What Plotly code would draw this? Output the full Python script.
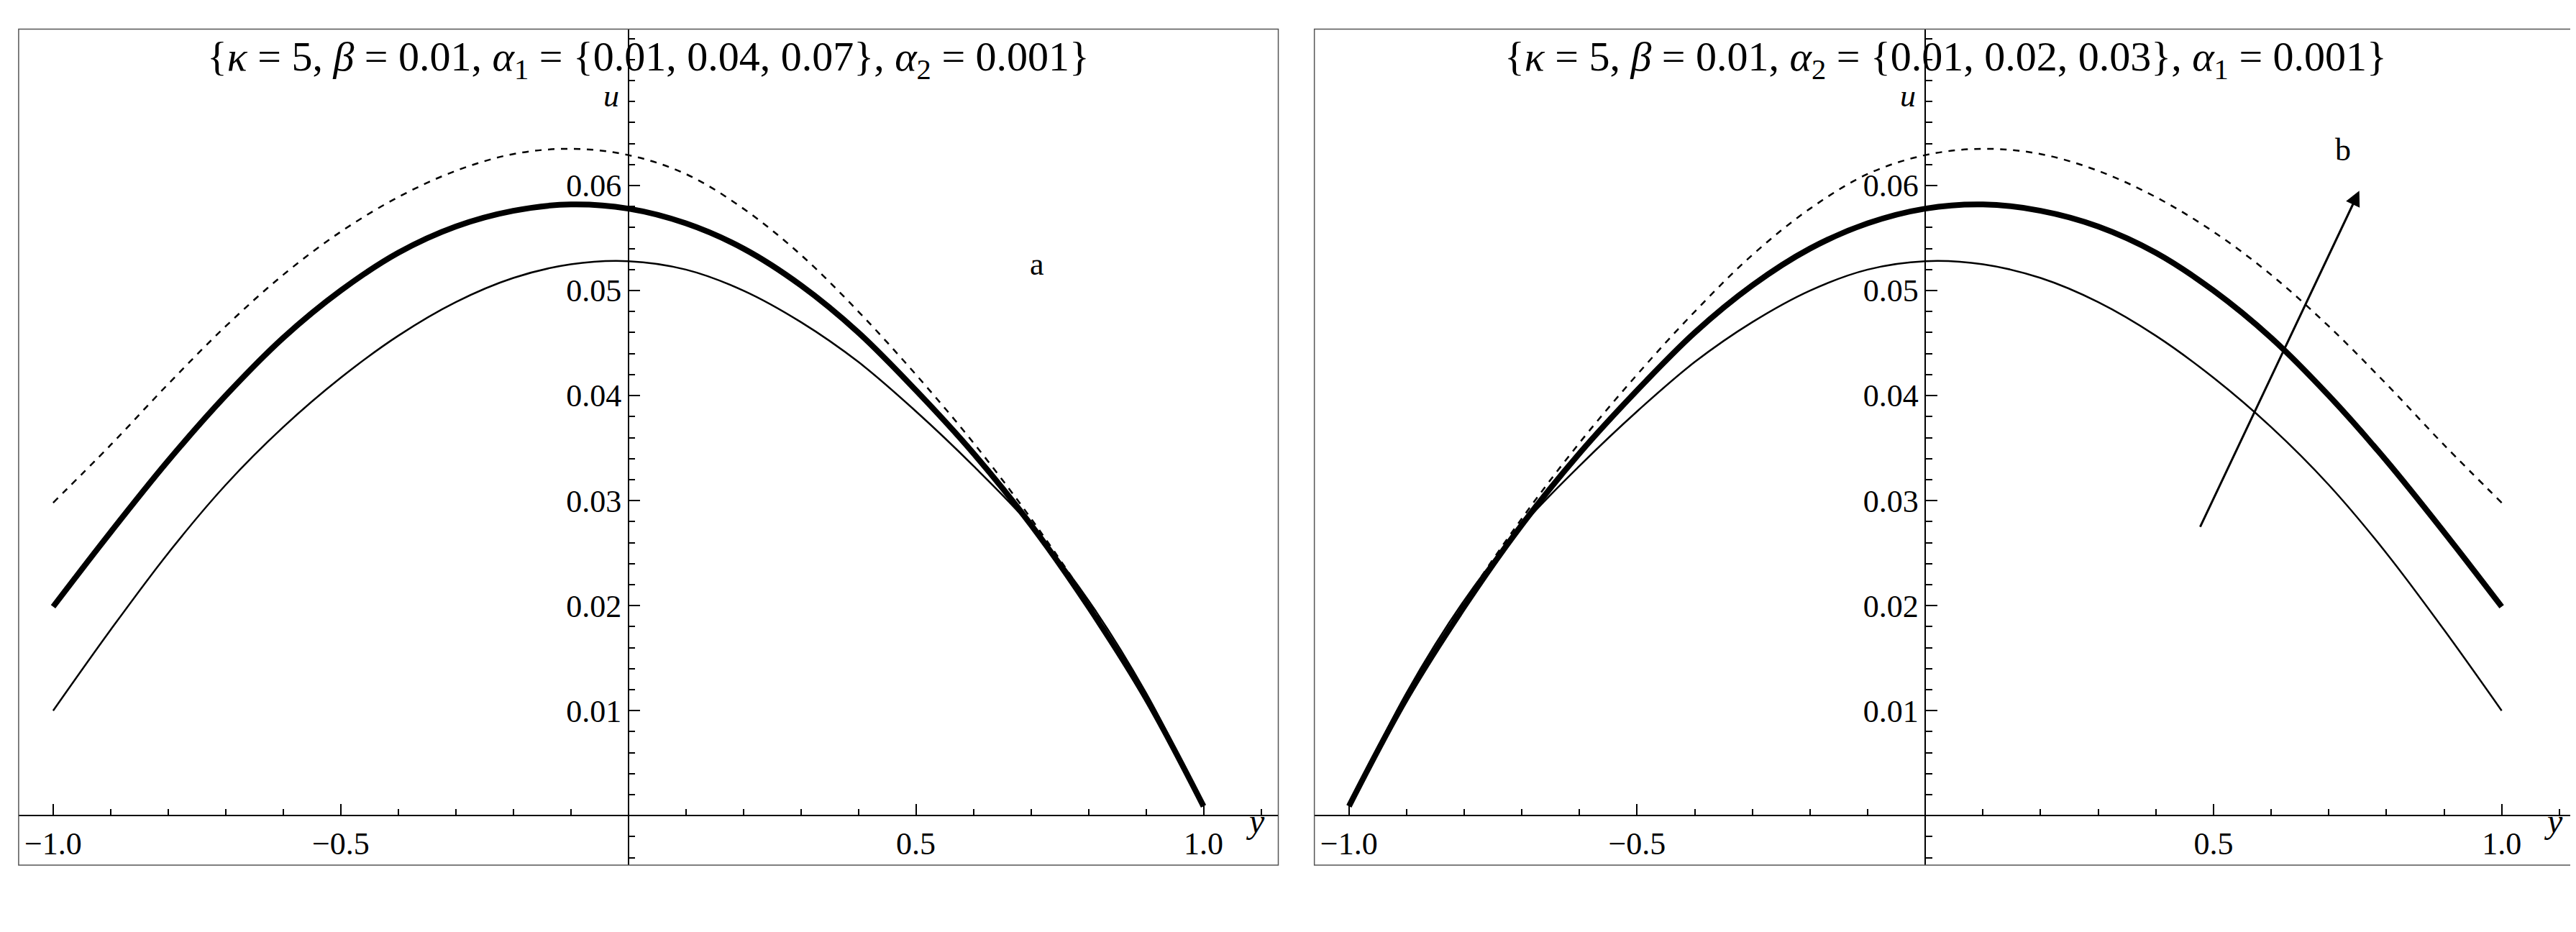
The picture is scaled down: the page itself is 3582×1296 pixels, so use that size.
import plotly.graph_objects as go

# values (right panel is its mirror image in y)
y_pts = [-1.0, -0.9, -0.8, -0.7, -0.6, -0.5, -0.4, -0.3, -0.2, -0.1, 0.0,
         0.1, 0.2, 0.3, 0.4, 0.5, 0.6, 0.7, 0.8, 0.9, 1.0]
u_low = [0.0100, 0.0177, 0.0250, 0.0315, 0.0370, 0.0417, 0.0457, 0.0489, 0.0512, 0.0525, 0.0528,
         0.0520, 0.0500, 0.0470, 0.0432, 0.0385, 0.0333, 0.0276, 0.0205, 0.0117, 0.0009]
u_mid = [0.0199, 0.0270, 0.0338, 0.0400, 0.0455, 0.0500, 0.0536, 0.0561, 0.0576, 0.0582, 0.0578,
         0.0564, 0.0540, 0.0505, 0.0460, 0.0405, 0.0345, 0.0277, 0.0199, 0.0112, 0.0009]
u_high = [0.0298, 0.0353, 0.0411, 0.0466, 0.0515, 0.0556, 0.0589, 0.0614, 0.0630, 0.0635, 0.0629,
          0.0611, 0.0578, 0.0534, 0.0480, 0.0420, 0.0355, 0.0283, 0.0203, 0.0113, 0.0009]

titles = [
    "{<i>κ</i> = 5, <i>β</i> = 0.01, <i>α</i><sub>1</sub> = {0.01, 0.04, 0.07}, <i>α</i><sub>2</sub> = 0.001}",
    "{<i>κ</i> = 5, <i>β</i> = 0.01, <i>α</i><sub>2</sub> = {0.01, 0.02, 0.03}, <i>α</i><sub>1</sub> = 0.001}",
]
x_ticks = [-1.0, -0.5, 0.5, 1.0]
x_ticktext = ["−1.0", "−0.5", "0.5", "1.0"]
u_ticks = [0.01, 0.02, 0.03, 0.04, 0.05, 0.06]

XR = [-1.06, 1.13]
UR = [-0.0047, 0.0749]
doms = [[0.005, 0.494], [0.508, 0.998]]
ydom = [0.078, 0.975]
FONT = "Liberation Serif"
TICK = 44

fig = go.Figure()
for i, dom in enumerate(doms):
    xa = "x" if i == 0 else "x2"
    ya = "y" if i == 0 else "y2"
    yy = y_pts if i == 0 else [-v for v in y_pts]
    for vals, w, dash in [(u_low, 2.5, "solid"), (u_mid, 8, "solid"), (u_high, 2.5, "dash")]:
        fig.add_trace(go.Scatter(x=yy, y=vals, xaxis=xa, yaxis=ya, mode="lines",
                                 line=dict(color="black", width=w, dash=dash, shape="spline"),
                                 showlegend=False))
    xpos = ydom[0] + (0 - UR[0]) / (UR[1] - UR[0]) * (ydom[1] - ydom[0])
    ypos = dom[0] + (0 - XR[0]) / (XR[1] - XR[0]) * (dom[1] - dom[0])
    sfx = "" if i == 0 else "2"
    fig.update_layout(**{
        "xaxis" + sfx: dict(domain=dom, range=XR, anchor="free", position=xpos,
                            showgrid=False, zeroline=False, showline=True, linecolor="black", linewidth=1.5,
                            ticks="inside", ticklen=16, tickwidth=1.5, tickcolor="black",
                            tickvals=x_ticks, ticktext=x_ticktext,
                            minor=dict(dtick=0.1, tick0=0, ticks="inside", ticklen=9, tickcolor="black"),
                            tickfont=dict(family=FONT, size=TICK, color="black")),
        "yaxis" + sfx: dict(domain=ydom, range=UR, anchor="free", position=ypos,
                            showgrid=False, zeroline=False, showline=True, linecolor="black", linewidth=1.5,
                            ticks="inside", ticklen=16, tickwidth=1.5, tickcolor="black",
                            tickvals=u_ticks, tickformat=".2f",
                            minor=dict(dtick=0.002, tick0=0, ticks="inside", ticklen=9, tickcolor="black"),
                            tickfont=dict(family=FONT, size=TICK, color="black")),
    })
    # frame around each panel
    fig.add_shape(type="rect", xref="paper", yref="paper", x0=dom[0], x1=dom[1], y0=ydom[0], y1=ydom[1],
                  line=dict(color="#555", width=1.5))
    fig.add_annotation(text=titles[i], xref=xa + " domain", yref="paper", x=0.5, y=ydom[1] - 0.003,
                       yanchor="top", showarrow=False, font=dict(family=FONT, size=58, color="black"))
    fig.add_annotation(text="<i>u</i>", xref=xa, yref=ya, x=-0.03, y=0.0685, showarrow=False,
                       font=dict(family=FONT, size=TICK, color="black"))
    fig.add_annotation(text="<i>y</i>", xref=xa, yref=ya, x=1.09, y=-0.0005, showarrow=False,
                       font=dict(family=FONT, size=48, color="black"))

fig.add_annotation(text="a", xref="x", yref="y", x=0.71, y=0.0525, showarrow=False,
                   font=dict(family=FONT, size=TICK, color="black"))
fig.add_annotation(text="b", xref="x2", yref="y2", x=0.725, y=0.0634, showarrow=False,
                   font=dict(family=FONT, size=TICK, color="black"))
fig.add_annotation(x=0.753, y=0.0595, ax=0.476, ay=0.0274, xref="x2", yref="y2", axref="x2", ayref="y2",
                   text="", showarrow=True, arrowhead=2, arrowsize=1.4, arrowwidth=3, arrowcolor="black")

fig.update_layout(width=3582, height=1296, margin=dict(l=0, r=0, t=0, b=0),
                  plot_bgcolor="white", paper_bgcolor="white")
fig.write_html("out.html")
